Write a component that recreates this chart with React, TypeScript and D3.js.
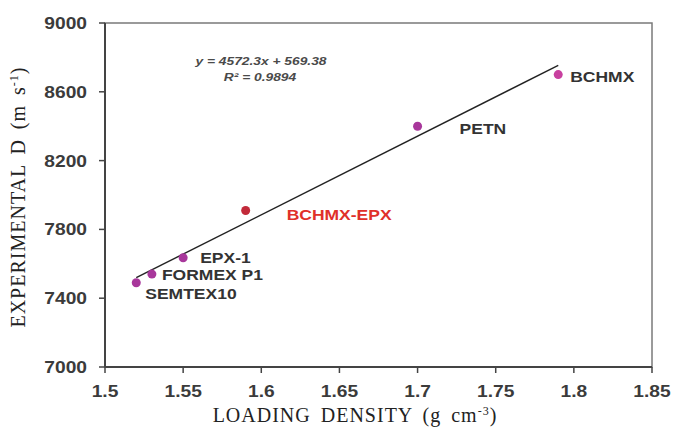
import React from "react";
import * as d3 from "d3";

// explosives, loading density (g/cm3) and measured detonation velocity (m/s)
const names = ["SEMTEX10", "FORMEX P1", "EPX-1", "BCHMX-EPX", "PETN", "BCHMX"];
const density = [1.52, 1.53, 1.55, 1.59, 1.7, 1.79];
const velocity = [7490, 7540, 7635, 7910, 8400, 8700];

// linear fit given on the chart
const slope = 4572.3;
const intercept = 569.38;
const fitRange = [1.52, 1.79];

const xTicks = [1.5, 1.55, 1.6, 1.65, 1.7, 1.75, 1.8, 1.85];
const yTicks = [7000, 7400, 7800, 8200, 8600, 9000];

const W = 678;
const H = 432;
const margin = { top: 23, right: 26, bottom: 65, left: 105 };

// label placement relative to the point
const labelOffset: Record<string, [number, number]> = {
  "SEMTEX10": [9, 16],
  "FORMEX P1": [10, 6],
  "EPX-1": [17, 5],
  "BCHMX-EPX": [41, 10],
  "PETN": [42, 8],
  "BCHMX": [12, 7],
};

const dotColor = (n: string) =>
  n === "BCHMX-EPX" ? "#c22a3a" : n === "BCHMX" ? "#c8409f" : "#a8379b";

const sans = "'Liberation Sans', Arial, sans-serif";
const serif = "'Liberation Serif', 'Times New Roman', serif";

// the original's text is a bit wider than plain Arial, so stretch it
function Wide(props: {
  x: number;
  y: number;
  anchor?: string;
  size: number;
  fill: string;
  stretch?: number;
  italic?: boolean;
  children: React.ReactNode;
}) {
  return (
    <text
      transform={`translate(${props.x},${props.y}) scale(${props.stretch ?? 1.2},1)`}
      textAnchor={props.anchor ?? "start"}
      fontFamily={sans}
      fontWeight="bold"
      fontStyle={props.italic ? "italic" : "normal"}
      fontSize={props.size}
      fill={props.fill}
    >
      {props.children}
    </text>
  );
}

export default function App() {
  const x = d3
    .scaleLinear()
    .domain([1.5, 1.85])
    .range([margin.left, W - margin.right]);
  const y = d3
    .scaleLinear()
    .domain([7000, 9000])
    .range([H - margin.bottom, margin.top]);

  const fit = d3
    .line<number>()
    .x((d) => x(d))
    .y((d) => y(slope * d + intercept));

  return (
    <svg
      width={W}
      height={H}
      style={{ position: "absolute", left: 0, top: 0, background: "#fff" }}
    >
      {/* frame */}
      <rect
        x={margin.left}
        y={margin.top}
        width={W - margin.left - margin.right}
        height={H - margin.top - margin.bottom}
        fill="none"
        stroke="#7a7a7a"
        strokeWidth={1.5}
      />
      {/* left and bottom axes */}
      <line
        x1={margin.left}
        x2={margin.left}
        y1={margin.top}
        y2={H - margin.bottom}
        stroke="#444"
        strokeWidth={2}
      />
      <line
        x1={margin.left}
        x2={W - margin.right}
        y1={H - margin.bottom}
        y2={H - margin.bottom}
        stroke="#444"
        strokeWidth={2}
      />

      {yTicks.map((t) => (
        <g key={t}>
          <line
            x1={margin.left - 6}
            x2={margin.left}
            y1={y(t)}
            y2={y(t)}
            stroke="#444"
            strokeWidth={1.5}
          />
          <Wide x={87} y={y(t) + 6} anchor="end" size={16} fill="#3b3b3b">
            {t}
          </Wide>
        </g>
      ))}

      {xTicks.map((t) => (
        <g key={t}>
          <line
            x1={x(t)}
            x2={x(t)}
            y1={H - margin.bottom}
            y2={H - margin.bottom + 6}
            stroke="#444"
            strokeWidth={1.5}
          />
          <Wide x={x(t)} y={397} anchor="middle" size={16} fill="#3b3b3b">
            {t}
          </Wide>
        </g>
      ))}

      {/* trend line */}
      <path d={fit(fitRange) ?? ""} fill="none" stroke="#222" strokeWidth={1.4} />

      {names.map((n, i) => (
        <g key={n}>
          <circle cx={x(density[i])} cy={y(velocity[i])} r={4.5} fill={dotColor(n)} />
          <Wide
            x={x(density[i]) + labelOffset[n][0]}
            y={y(velocity[i]) + labelOffset[n][1]}
            size={15.5}
            stretch={1.13}
            fill={n === "BCHMX-EPX" ? "#e0302a" : "#333"}
          >
            {n}
          </Wide>
        </g>
      ))}

      {/* regression equation */}
      <Wide x={261} y={65} anchor="middle" size={11.5} fill="#4a4a4a" italic>
        {`y = ${slope}x + ${intercept}`}
      </Wide>
      <Wide x={260} y={81} anchor="middle" size={11.5} fill="#4a4a4a" italic>
        R² = 0.9894
      </Wide>

      {/* axis titles */}
      <text
        x={355}
        y={422}
        textAnchor="middle"
        fontFamily={serif}
        fontSize={20}
        letterSpacing={1}
        wordSpacing={4}
        fill="#222"
      >
        LOADING DENSITY (g cm
        <tspan dy={-7} fontSize={12}>
          -3
        </tspan>
        <tspan dy={7}>)</tspan>
      </text>
      <text
        transform={`translate(25,197) rotate(-90)`}
        textAnchor="middle"
        fontFamily={serif}
        fontSize={20}
        letterSpacing={1}
        wordSpacing={4}
        fill="#222"
      >
        EXPERIMENTAL D (m s
        <tspan dy={-7} fontSize={12}>
          -1
        </tspan>
        <tspan dy={7}>)</tspan>
      </text>
    </svg>
  );
}
